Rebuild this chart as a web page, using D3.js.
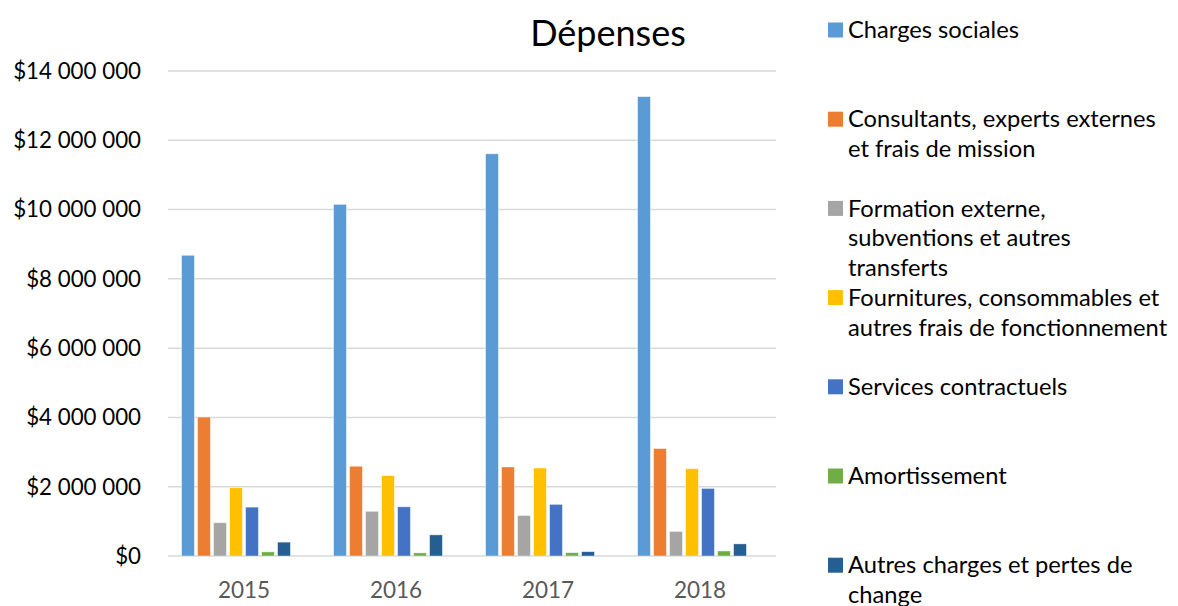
<!DOCTYPE html>
<html lang="fr">
<head>
    <meta charset="UTF-8">
    <script src="https://cdn.jsdelivr.net/npm/d3@7"></script>
    <title>Dépenses</title>
    <style>
        body {
            margin: 0;
            background: #fff;
            font-family: Lato, "Noto Sans", sans-serif;
        }
    </style>
</head>
<body>
    <script>
        // ---------- data ----------
        const years = ["2015", "2016", "2017", "2018"];
        const series = [
            "Charges sociales",
            "Consultants, experts externes\net frais de mission",
            "Formation externe,\nsubventions et autres\ntransferts",
            "Fournitures, consommables et\nautres frais de fonctionnement",
            "Services contractuels",
            "Amortissement",
            "Autres charges et pertes de\nchange"
        ];
        const colors = ["#5b9bd5", "#ed7d31", "#a5a5a5", "#ffc000", "#4472c4", "#70ad47", "#255e91"];
        // values by series, one per year
        const chargesSociales = [8680000, 10150000, 11610000, 13260000];
        const consultants = [4010000, 2590000, 2570000, 3100000];
        const formation = [960000, 1290000, 1170000, 710000];
        const fournitures = [1970000, 2320000, 2540000, 2520000];
        const services = [1410000, 1420000, 1490000, 1950000];
        const amortissement = [120000, 90000, 96000, 145000];
        const autres = [400000, 610000, 125000, 350000];
        const values = [chargesSociales, consultants, formation, fournitures, services, amortissement, autres];
        const yTicks = [0, 2000000, 4000000, 6000000, 8000000, 10000000, 12000000, 14000000];

        // ---------- layout ----------
        const W = 1178, H = 606;
        const plot = {left: 168, right: 776, top: 71, bottom: 556};

        const svg = d3.select("body").append("svg")
            .attr("width", W)
            .attr("height", H);

        const x0 = d3.scaleBand()
            .domain(years)
            .range([plot.left, plot.right]);

        // 8 slots per group, the last one stays empty
        const x1 = d3.scaleBand()
            .domain(d3.range(8))
            .range([13.6, x0.bandwidth() - 13.6])
            .paddingInner(0.2);

        const y = d3.scaleLinear()
            .domain([0, 14000000])
            .range([plot.bottom, plot.top]);

        // gridlines
        svg.append("g")
            .selectAll("line")
            .data(yTicks)
            .join("line")
            .attr("x1", plot.left)
            .attr("x2", plot.right)
            .attr("y1", d => y(d))
            .attr("y2", d => y(d))
            .attr("stroke", "#d9d9d9")
            .attr("stroke-width", 1.5);

        // y labels
        const fmt = v => "$" + d3.format(",")(v).replace(/,/g, " ");
        svg.append("g")
            .selectAll("text")
            .data(yTicks)
            .join("text")
            .attr("x", 141)
            .attr("y", d => y(d))
            .attr("dy", "0.35em")
            .attr("text-anchor", "end")
            .attr("font-size", 22.3)
            .attr("fill", "#000")
            .text(fmt);

        // x labels
        svg.append("g")
            .selectAll("text")
            .data(years)
            .join("text")
            .attr("x", d => x0(d) + x0.bandwidth() / 2)
            .attr("y", 590)
            .attr("dy", "0.35em")
            .attr("text-anchor", "middle")
            .attr("font-size", 22.5)
            .attr("fill", "#595959")
            .text(d => d);

        // bars
        const groups = svg.append("g")
            .selectAll("g")
            .data(years)
            .join("g")
            .attr("transform", d => `translate(${x0(d)},0)`);

        groups.selectAll("rect")
            .data((d, i) => values.map((s, k) => ({k: k, v: s[i]})))
            .join("rect")
            .attr("x", d => x1(d.k))
            .attr("width", x1.bandwidth())
            .attr("y", d => y(d.v))
            .attr("height", d => y(0) - y(d.v))
            .attr("fill", d => colors[d.k])
            .attr("stroke", "#fff")
            .attr("stroke-opacity", 0.5)
            .attr("stroke-width", 0.8);

        // title
        svg.append("text")
            .attr("x", 608)
            .attr("y", 33)
            .attr("dy", "0.35em")
            .attr("text-anchor", "middle")
            .attr("font-size", 36)
            .attr("fill", "#000")
            .text("Dépenses");

        // legend
        const legend = svg.append("g")
            .selectAll("g")
            .data(series)
            .join("g")
            .attr("transform", (d, i) => `translate(828,${30 + i * 89.2})`);

        legend.append("rect")
            .attr("x", 0)
            .attr("y", -7.5)
            .attr("width", 15)
            .attr("height", 15)
            .attr("fill", (d, i) => colors[i]);

        legend.append("text")
            .attr("font-size", 23.7)
            .attr("fill", "#000")
            .selectAll("tspan")
            .data(d => d.split("\n"))
            .join("tspan")
            .attr("x", 20)
            .attr("y", (d, i) => i * 29.7)
            .attr("dy", "0.35em")
            .text(d => d);
    </script>
</body>
</html>
